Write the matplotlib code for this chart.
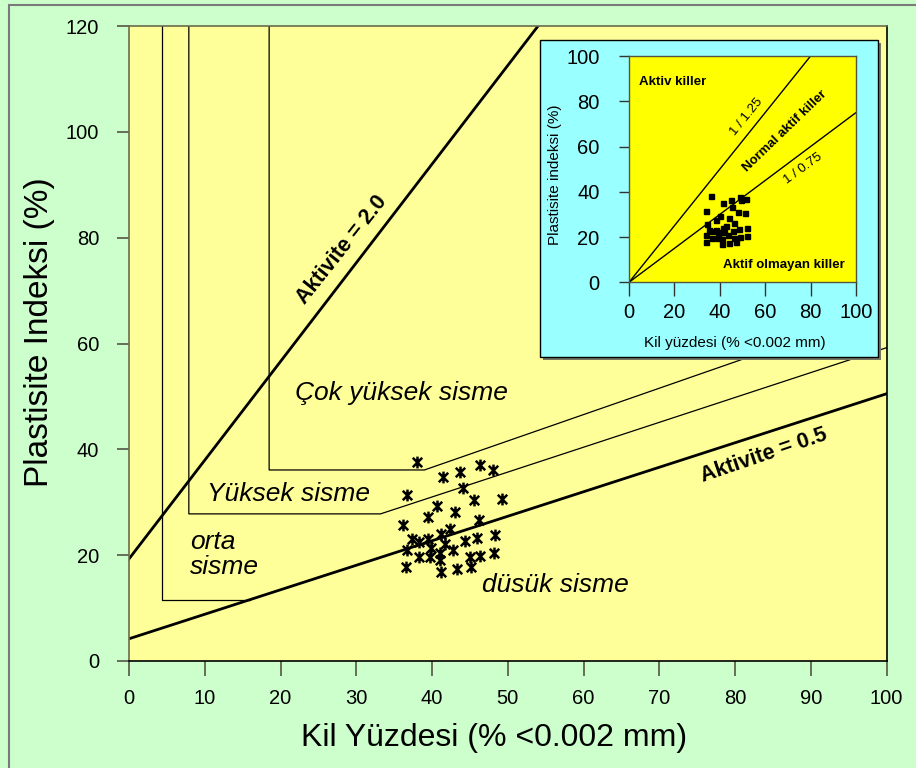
import numpy as np
import matplotlib
matplotlib.use("Agg")
import matplotlib.pyplot as plt
from matplotlib.path import Path
from matplotlib.patches import Rectangle

plt.rcParams['font.family'] = ['Liberation Sans', 'DejaVu Sans']

# numune noktalari: kil yuzdesi ve plastisite indeksi
kil = [38.0, 41.4, 43.7, 46.3, 48.0, 36.7, 44.1, 45.5, 49.2, 40.6,
       39.5, 43.1, 46.2, 36.2, 37.3, 38.3, 39.5, 41.2, 42.4, 45.9,
       48.3, 44.4, 41.7, 36.7, 39.9, 42.8, 41.1, 38.3, 39.7, 45.0,
       46.3, 48.2, 41.1, 36.6, 41.2, 43.3, 45.2]
pi = [37.6, 34.7, 35.7, 37.1, 36.1, 31.4, 32.6, 30.4, 30.6, 29.2,
      27.2, 28.2, 26.7, 25.7, 23.1, 22.4, 23.1, 24.0, 25.0, 23.3,
      23.8, 22.7, 22.1, 21.0, 21.3, 21.0, 20.4, 19.6, 19.6, 19.7,
      19.9, 20.5, 19.1, 17.7, 16.9, 17.4, 17.7]

# kucuk grafikteki noktalar
ic_kil = [36.0, 41.3, 49.3, 45.1, 48.9, 51.5, 33.8, 45.4, 40.1, 47.9,
          51.1, 38.3, 43.9, 34.4, 42.7, 46.3, 35.2, 36.7, 38.3, 41.3,
          46.0, 48.6, 51.8, 33.8, 39.1, 40.5, 43.5, 41.7, 36.4, 39.4,
          40.8, 46.4, 48.9, 51.8, 33.8, 40.8, 44.2, 47.1]
ic_pi = [38.3, 35.2, 36.2, 36.2, 37.7, 36.7, 31.7, 33.4, 29.5, 30.9,
         30.8, 27.5, 28.4, 25.6, 25.0, 26.1, 23.1, 22.7, 23.1, 23.9,
         22.7, 23.6, 24.0, 20.9, 21.2, 22.4, 21.1, 22.1, 19.7, 19.7,
         19.0, 19.7, 20.2, 20.6, 17.7, 16.9, 17.4, 17.7]

# aktivite cizgileri
akt20_x = [0, 54.0]
akt20_y = [19.3, 120]
akt05_x = [0, 100]
akt05_y = [4.2, 50.5]

# sisme bolgelerinin sinirlari
orta_x = [4.4, 4.4, 16.0]
orta_y = [120, 11.5, 11.5]
yuksek_x = [7.9, 7.9, 33.2, 100]
yuksek_y = [120, 27.8, 27.8, 59.2]
cok_x = [18.5, 18.5, 39.0, 97]
cok_y = [120, 36.1, 36.1, 65.0]

# kucuk grafik: aktivite sinirlari
ic_125_x = [0, 80]
ic_125_y = [0, 100]
ic_075_x = [0, 100]
ic_075_y = [0, 75]

W, H = 916, 768

# excel tarzi yildiz isaretci
yildiz = Path([(0, -1), (0, 1), (-0.8, -0.8), (0.8, 0.8), (-0.8, 0.8), (0.8, -0.8)],
              [Path.MOVETO, Path.LINETO, Path.MOVETO, Path.LINETO, Path.MOVETO, Path.LINETO])

fig = plt.figure(figsize=(W / 100, H / 100), dpi=100, facecolor='#CCFFCC')
fig.add_artist(Rectangle((9 / W, -0.1), 1.2, 1 - 5 / H + 0.1, transform=fig.transFigure,
                         fill=False, edgecolor='#7a7a7a', lw=1.5))

ax = fig.add_axes([129 / W, 1 - 661 / H, 757.5 / W, 635 / H])
ax.set_facecolor('#FFFF99')
ax.set_xlim(0, 100)
ax.set_ylim(0, 120)
ax.set_xticks(range(0, 101, 10))
ax.set_yticks(range(0, 121, 20))
ax.tick_params(axis='y', direction='out', length=8.6, width=1.2, pad=13, labelsize=14.5, color='#555544')
ax.tick_params(axis='x', direction='out', length=10.8, width=1.2, pad=9, labelsize=14.5, color='#555544')
for s in ['left', 'top']:
    ax.spines[s].set_color('#6b6b4a')
for s in ['right', 'bottom']:
    ax.spines[s].set_color('black')
for s in ax.spines.values():
    s.set_linewidth(1.2)

ax.plot(orta_x, orta_y, color='black', lw=0.9)
ax.plot(yuksek_x, yuksek_y, color='black', lw=0.9)
ax.plot(cok_x, cok_y, color='black', lw=0.9)
ax.plot(akt20_x, akt20_y, color='black', lw=2.0)
ax.plot(akt05_x, akt05_y, color='black', lw=2.0)
ax.plot(kil, pi, ls='none', marker=yildiz, markersize=8.5, markeredgewidth=1.8,
        color='black', zorder=5)

ax.text(21.9, 50.7, 'Çok yüksek sisme', fontsize=19, style='italic', va='center')
ax.text(10.3, 31.5, 'Yüksek sisme', fontsize=19, style='italic', va='center')
ax.text(8.1, 20.2, 'orta\nsisme', fontsize=19, style='italic', va='center', linespacing=1.05)
ax.text(46.6, 14.4, 'düsük sisme', fontsize=19, style='italic', va='center')
ax.text(28.1, 77.7, 'Aktivite = 2.0', fontsize=15.5, fontweight='bold', rotation=51.5,
        ha='center', va='center', rotation_mode='anchor')
ax.text(83.8, 38.8, 'Aktivite = 0.5', fontsize=15.5, fontweight='bold', rotation=18.8,
        ha='center', va='center', rotation_mode='anchor')

ax.set_xlabel('Kil Yüzdesi (% <0.002 mm)', fontsize=23, va='center')
ax.xaxis.set_label_coords(0.482, -(738 - 661) / 635)
ax.set_ylabel('Plastisite Indeksi (%)', fontsize=24, va='center')
ax.yaxis.set_label_coords((40 - 129) / 757.5, 0.518)

# kucuk grafigin mavi cercevesi ve golgesi
fig.add_artist(Rectangle((543 / W, 1 - 360 / H), 338 / W, 317 / H, transform=fig.transFigure,
                         facecolor='#777766', edgecolor='none', zorder=1))
fig.add_artist(Rectangle((540 / W, 1 - 357 / H), 338 / W, 317 / H, transform=fig.transFigure,
                         facecolor='#99FFFF', edgecolor='black', lw=1.0, zorder=1.1))

ins = fig.add_axes([629 / W, 1 - 282.3 / H, 227 / W, 226.3 / H])
ins.set_zorder(2)
ins.set_facecolor('#FFFF00')
ins.set_xlim(0, 100)
ins.set_ylim(0, 100)
ins.set_xticks(range(0, 101, 20))
ins.set_yticks(range(0, 101, 20))
ins.tick_params(axis='y', direction='out', length=7.2, width=1.0, pad=14, labelsize=14.5, color='#333333')
ins.tick_params(axis='x', direction='out', length=10, width=1.0, pad=5, labelsize=14.5, color='#333333')
for s in ins.spines.values():
    s.set_color('#555544')
    s.set_linewidth(1.0)

ins.plot(ic_125_x, ic_125_y, color='black', lw=1.0)
ins.plot(ic_075_x, ic_075_y, color='black', lw=1.0)
ins.plot(ic_kil, ic_pi, ls='none', marker='s', markersize=3.6, color='black', zorder=5)

ins.text(4.5, 88.6, 'Aktiv killer', fontsize=9.5, fontweight='bold', va='center')
ins.text(51.8, 73.2, '1 / 1.25', fontsize=9.5, rotation=51, ha='center', va='center',
         rotation_mode='anchor')
ins.text(68.7, 67.0, 'Normal aktif killer', fontsize=9.5, fontweight='bold', rotation=44,
         ha='center', va='center', rotation_mode='anchor')
ins.text(76.8, 50.4, '1 / 0.75', fontsize=9.5, rotation=36, ha='center', va='center',
         rotation_mode='anchor')
ins.text(95.2, 7.6, 'Aktif olmayan killer', fontsize=9.5, fontweight='bold', ha='right', va='center')

ins.set_xlabel('Kil yüzdesi (% <0.002 mm)', fontsize=11, va='center')
ins.xaxis.set_label_coords(0.466, -0.268)
ins.set_ylabel('Plastisite indeksi (%)', fontsize=11, va='center')
ins.yaxis.set_label_coords(-0.326, 0.474)

fig.savefig('out.png', dpi=100, facecolor=fig.get_facecolor())
